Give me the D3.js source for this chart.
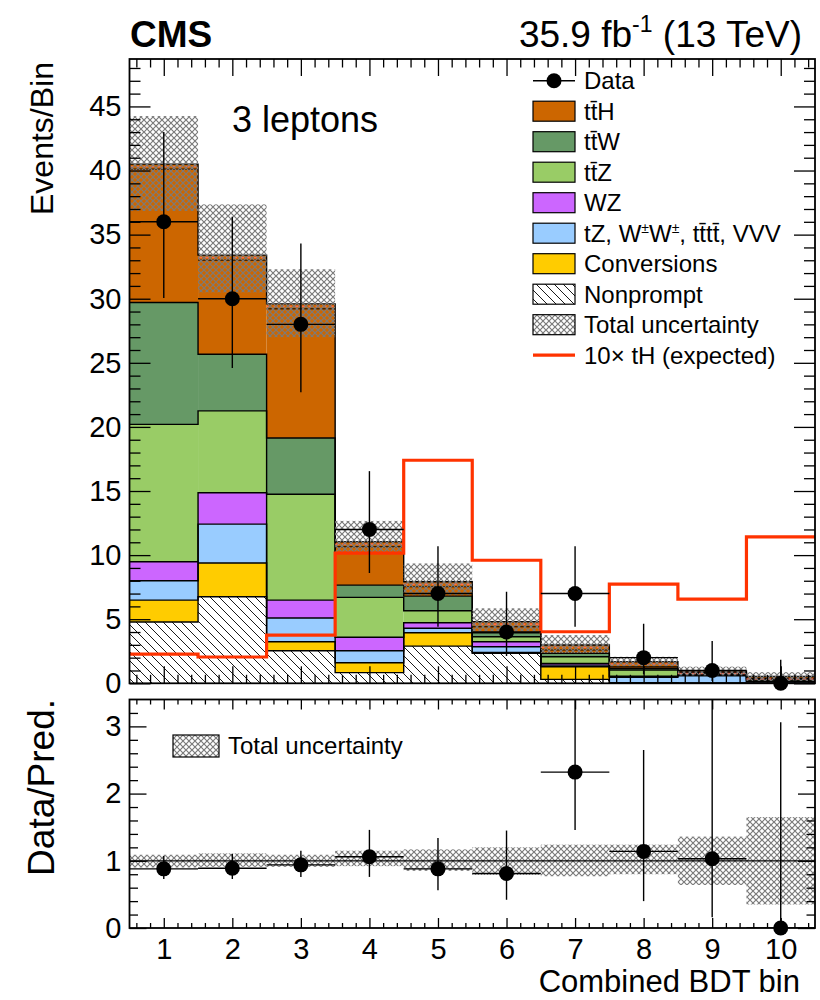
<!DOCTYPE html>
<html>
<head>
<meta charset="utf-8">
<script src="https://cdn.jsdelivr.net/npm/d3@7"></script>
<style>
  body { margin: 0; background: #fff; }
  text { font-family: "Liberation Sans", Arial, Helvetica, sans-serif; fill: #000; }
</style>
</head>
<body>
<svg id="chart"></svg>
<script>
const width = 820;
const height = 1000;

// ---- data ----
const bins = [1, 2, 3, 4, 5, 6, 7, 8, 9, 10];
const nonprompt   = [4.78, 6.75, 2.54, 0.83, 2.90, 2.34, 0.31, 0.02, 0.00, 0.00];
const conversions = [1.71, 2.63, 0.70, 0.77, 1.04, 0.06, 0.98, 0.03, 0.02, 0.00];
const rare        = [1.51, 3.04, 1.85, 0.94, 0.35, 0.45, 0.13, 0.42, 0.61, 0.15];
const wz          = [1.48, 2.44, 1.40, 1.05, 0.43, 0.39, 0.13, 0.08, 0.05, 0.03];
const ttz         = [10.72, 6.39, 8.26, 3.11, 0.94, 0.39, 0.52, 0.49, 0.07, 0.10];
const ttw         = [9.50, 4.42, 4.39, 0.96, 1.14, 0.31, 0.27, 0.13, 0.07, 0.10];
const tth         = [10.80, 7.73, 10.46, 3.38, 1.12, 0.86, 0.65, 0.51, 0.14, 0.15];

const uncHi = [44.25, 37.36, 32.3, 12.67, 9.35, 5.85, 3.76, 2.07, 1.30, 0.87];
const uncLo = [36.85, 30.5, 27.0, 10.26, 6.88, 4.02, 2.36, 1.34, 0.62, 0.19];

const dataObs = [36, 30, 28, 12, 7, 4, 7, 2, 1, 0];
const dataHi  = [43.0, 36.4, 34.3, 16.55, 10.7, 7.14, 10.7, 4.64, 3.3, 1.84];
const dataLo  = [30.05, 24.6, 22.7, 8.6, 4.41, 2.13, 4.41, 0.71, 0.17, 0];

const tH10 = [2.28, 2.05, 3.76, 10.16, 17.4, 9.6, 4.02, 7.74, 6.57, 11.43];

const ratio   = [0.88, 0.89, 0.94, 1.06, 0.88, 0.81, 2.32, 1.14, 1.03, 0];
const ratioHi = [1.07, 1.10, 1.15, 1.46, 1.34, 1.45, 3.58, 2.65, 3.44, 3.06];
const ratioLo = [0.73, 0.73, 0.76, 0.76, 0.56, 0.42, 1.46, 0.40, 0.16, 0];
const bandHi  = [1.09, 1.11, 1.09, 1.15, 1.17, 1.20, 1.24, 1.24, 1.36, 1.65];
const bandLo  = [0.90, 0.91, 0.91, 0.92, 0.85, 0.79, 0.77, 0.80, 0.64, 0.35];

const procKeys   = ['nonprompt', 'conversions', 'rare', 'wz', 'ttz', 'ttw', 'tth'];
const procColors = ['#ffffff', '#ffcc00', '#99ccff', '#cc66ff', '#99cc66', '#669966', '#cc6600'];

const svg = d3.select('#chart')
    .attr('width', width)
    .attr('height', height);

// ---- scales ----
const x  = d3.scaleLinear().domain([0.5, 10.5]).range([129.5, 815]);
const y  = d3.scaleLinear().domain([0, 48.7]).range([683.3, 59]);
const yr = d3.scaleLinear().domain([0, 3.4]).range([928, 699.5]);

// ---- patterns ----
const defs = svg.append('defs');
const np = defs.append('pattern').attr('id', 'hatchNP')
    .attr('patternUnits', 'userSpaceOnUse').attr('width', 9).attr('height', 9);
np.append('rect').attr('width', 9).attr('height', 9).attr('fill', '#fff');
np.append('path').attr('d', 'M-1,-1 L10,10 M-1,8 L1,10 M8,-1 L10,1')
    .attr('stroke', '#000').attr('stroke-width', 0.9);

const cross = defs.append('pattern').attr('id', 'cross')
    .attr('patternUnits', 'userSpaceOnUse').attr('width', 6).attr('height', 6);
cross.append('path').attr('d', 'M0,0 L6,6 M0,6 L6,0')
    .attr('stroke', '#7a7a7a').attr('stroke-width', 1.2).attr('fill', 'none');

defs.append('clipPath').attr('id', 'clipMain').append('rect')
    .attr('x', x(0.5)).attr('y', y(48.7)).attr('width', x(10.5) - x(0.5)).attr('height', y(0) - y(48.7));
defs.append('clipPath').attr('id', 'clipRatio').append('rect')
    .attr('x', x(0.5)).attr('y', yr(3.4)).attr('width', x(10.5) - x(0.5)).attr('height', yr(0) - yr(3.4));

// ---- stacked histogram ----
const rows = bins.map((b, i) => ({
    bin: b, nonprompt: nonprompt[i], conversions: conversions[i], rare: rare[i],
    wz: wz[i], ttz: ttz[i], ttw: ttw[i], tth: tth[i]
}));
const stacked = d3.stack().keys(procKeys)(rows);

const main = svg.append('g').attr('clip-path', 'url(#clipMain)');

stacked.forEach((layer, k) => {
    main.append('g').selectAll('rect').data(layer).enter().append('rect')
        .attr('x', d => x(d.data.bin - 0.5))
        .attr('width', d => x(d.data.bin + 0.5) - x(d.data.bin - 0.5))
        .attr('y', d => y(d[1]))
        .attr('height', d => y(d[0]) - y(d[1]))
        .attr('fill', k === 0 ? 'url(#hatchNP)' : procColors[k]);
});

function stepPath(vals, scale) {
    let p = `M${x(0.5)},${scale(vals[0])}`;
    vals.forEach((v, i) => {
        p += ` V${scale(v)} H${x(bins[i] + 0.5)}`;
    });
    return p;
}

stacked.forEach(layer => {
    main.append('path')
        .attr('d', stepPath(layer.map(d => d[1]), y))
        .attr('fill', 'none').attr('stroke', '#000').attr('stroke-width', 1.4);
});

// top-of-stack double outline
const totals = stacked[stacked.length - 1].map(d => d[1]);
main.append('g').selectAll('line').data(bins).enter().append('line')
    .attr('x1', d => x(d - 0.5)).attr('x2', d => x(d + 0.5))
    .attr('y1', (d, i) => y(totals[i]) + 2.5).attr('y2', (d, i) => y(totals[i]) + 2.5)
    .attr('stroke', '#ff6a4a').attr('stroke-width', 1.3).attr('stroke-dasharray', '4,3');
main.append('g').selectAll('line').data(bins).enter().append('line')
    .attr('x1', d => x(d - 0.5)).attr('x2', d => x(d + 0.5))
    .attr('y1', (d, i) => y(totals[i]) + 5).attr('y2', (d, i) => y(totals[i]) + 5)
    .attr('stroke', '#000').attr('stroke-width', 1);

// total uncertainty band
main.append('g').selectAll('rect').data(bins).enter().append('rect')
    .attr('x', d => x(d - 0.5))
    .attr('width', d => x(d + 0.5) - x(d - 0.5))
    .attr('y', (d, i) => y(uncHi[i]))
    .attr('height', (d, i) => y(uncLo[i]) - y(uncHi[i]))
    .attr('fill', 'url(#cross)');

// 10x tH
main.append('path')
    .attr('d', stepPath(tH10, y))
    .attr('fill', 'none').attr('stroke', '#ff3300').attr('stroke-width', 3.2);

// data
function drawData(g, scale, vals, hi, lo) {
    const pts = g.append('g');
    pts.selectAll('.eh').data(bins).enter().append('line')
        .attr('x1', d => x(d - 0.5)).attr('x2', d => x(d + 0.5))
        .attr('y1', (d, i) => scale(vals[i])).attr('y2', (d, i) => scale(vals[i]))
        .attr('stroke', '#000').attr('stroke-width', 1.4);
    pts.selectAll('.ev').data(bins).enter().append('line')
        .attr('x1', d => x(d)).attr('x2', d => x(d))
        .attr('y1', (d, i) => scale(hi[i])).attr('y2', (d, i) => scale(lo[i]))
        .attr('stroke', '#000').attr('stroke-width', 1.4);
    return pts;
}
drawData(main, y, dataObs, dataHi, dataLo);
svg.append('g').selectAll('circle').data(bins).enter().append('circle')
    .attr('cx', d => x(d)).attr('cy', (d, i) => y(dataObs[i])).attr('r', 7.5).attr('fill', '#000');

// ---- ratio panel ----
const rat = svg.append('g').attr('clip-path', 'url(#clipRatio)');
rat.append('g').selectAll('rect').data(bins).enter().append('rect')
    .attr('x', d => x(d - 0.5))
    .attr('width', d => x(d + 0.5) - x(d - 0.5))
    .attr('y', (d, i) => yr(bandHi[i]))
    .attr('height', (d, i) => yr(bandLo[i]) - yr(bandHi[i]))
    .attr('fill', 'url(#cross)');
rat.append('line')
    .attr('x1', x(0.5)).attr('x2', x(10.5)).attr('y1', yr(1)).attr('y2', yr(1))
    .attr('stroke', '#000').attr('stroke-width', 1.2);
drawData(rat, yr, ratio, ratioHi, ratioLo);
svg.append('g').selectAll('circle').data(bins).enter().append('circle')
    .attr('cx', d => x(d)).attr('cy', (d, i) => yr(ratio[i])).attr('r', 7.5).attr('fill', '#000');

// ---- axes ----
function tickAxis(axisFn, scale, values, size, tx, ty) {
    const g = svg.append('g').attr('transform', `translate(${tx},${ty})`);
    g.call(axisFn(scale).tickValues(values).tickSize(size).tickFormat(''));
    g.select('.domain').remove();
    g.selectAll('line').attr('stroke', '#000').attr('stroke-width', 1.3);
    return g;
}

const yMajor = d3.range(0, 46, 5);
const yMinor = d3.range(0, 49, 1).filter(v => v % 5 !== 0);
const xMajor = bins;
const xMinor = d3.range(3, 53).map(v => v / 5).filter(v => v % 1 !== 0);
const rMajor = [0, 1, 2, 3];
const rMinor = d3.range(1, 17).map(v => v / 5).filter(v => v % 1 !== 0);

// main panel ticks
tickAxis(d3.axisLeft, y, yMajor, -21, x(0.5), 0);
tickAxis(d3.axisLeft, y, yMinor, -11, x(0.5), 0);
tickAxis(d3.axisRight, y, yMajor, -21, x(10.5), 0);
tickAxis(d3.axisRight, y, yMinor, -11, x(10.5), 0);
tickAxis(d3.axisBottom, x, xMajor, -17, 0, y(0));
tickAxis(d3.axisBottom, x, xMinor, -8.5, 0, y(0));
tickAxis(d3.axisTop, x, xMajor, -17, 0, y(48.7));
tickAxis(d3.axisTop, x, xMinor, -8.5, 0, y(48.7));

// ratio panel ticks
tickAxis(d3.axisLeft, yr, rMajor, -17, x(0.5), 0);
tickAxis(d3.axisLeft, yr, rMinor, -8.5, x(0.5), 0);
tickAxis(d3.axisRight, yr, rMajor, -17, x(10.5), 0);
tickAxis(d3.axisRight, yr, rMinor, -8.5, x(10.5), 0);
tickAxis(d3.axisBottom, x, xMajor, -10, 0, yr(0));
tickAxis(d3.axisBottom, x, xMinor, -5, 0, yr(0));
tickAxis(d3.axisTop, x, xMajor, -10, 0, yr(3.4));
tickAxis(d3.axisTop, x, xMinor, -5, 0, yr(3.4));

// frames
svg.append('rect').attr('x', x(0.5)).attr('y', y(48.7))
    .attr('width', x(10.5) - x(0.5)).attr('height', y(0) - y(48.7))
    .attr('fill', 'none').attr('stroke', '#000').attr('stroke-width', 1.8);
svg.append('rect').attr('x', x(0.5)).attr('y', yr(3.4))
    .attr('width', x(10.5) - x(0.5)).attr('height', yr(0) - yr(3.4))
    .attr('fill', 'none').attr('stroke', '#000').attr('stroke-width', 1.8);

// tick labels
const yLab = svg.append('g').attr('transform', `translate(${x(0.5)},0)`)
    .call(d3.axisLeft(y).tickValues(yMajor).tickSize(0).tickPadding(8));
const rLab = svg.append('g').attr('transform', `translate(${x(0.5)},0)`)
    .call(d3.axisLeft(yr).tickValues(rMajor).tickFormat(d3.format('d')).tickSize(0).tickPadding(8));
const xLab = svg.append('g').attr('transform', `translate(0,${yr(0)})`)
    .call(d3.axisBottom(x).tickValues(xMajor).tickSize(0).tickPadding(10));
[yLab, rLab, xLab].forEach(g => {
    g.select('.domain').remove();
    g.selectAll('text').attr('font-size', 29).attr('font-family', null);
});

// axis titles
svg.append('text').attr('transform', 'translate(53,62) rotate(-90)')
    .attr('text-anchor', 'end').attr('font-size', 32).text('Events/Bin');
svg.append('text').attr('transform', 'translate(54,699) rotate(-90)')
    .attr('text-anchor', 'end').attr('font-size', 37).text('Data/Pred.');
svg.append('text').attr('x', 800).attr('y', 992)
    .attr('text-anchor', 'end').attr('font-size', 31).text('Combined BDT bin');

// header
svg.append('text').attr('x', 130).attr('y', 47)
    .attr('font-size', 37).attr('font-weight', 'bold').text('CMS');
const lumi = svg.append('text').attr('x', 802).attr('y', 47)
    .attr('text-anchor', 'end').attr('font-size', 37);
lumi.append('tspan').text('35.9 fb');
lumi.append('tspan').attr('font-size', 23).attr('dy', -15).text('-1');
lumi.append('tspan').attr('dy', 15).text(' (13 TeV)');

svg.append('text').attr('x', 232).attr('y', 132)
    .attr('font-size', 36).text('3 leptons');

// ---- legend ----
const legX = 533, legW = 42, legH = 20, legTextX = 584, legY0 = 80.7, legStep = 30.5;
const legendItems = [
    { type: 'data', label: 'Data' },
    { type: 'box', fill: '#cc6600', label: 'tt\u0304H' },
    { type: 'box', fill: '#669966', label: 'tt\u0304W' },
    { type: 'box', fill: '#99cc66', label: 'tt\u0304Z' },
    { type: 'box', fill: '#cc66ff', label: 'WZ' },
    { type: 'box', fill: '#99ccff', label: 'rare' },
    { type: 'box', fill: '#ffcc00', label: 'Conversions' },
    { type: 'box', fill: 'url(#hatchNP)', label: 'Nonprompt' },
    { type: 'box', fill: 'url(#cross)', label: 'Total uncertainty' },
    { type: 'line', label: '10\u00d7 tH (expected)' }
];

const leg = svg.append('g');
legendItems.forEach((it, i) => {
    const cy = legY0 + i * legStep;
    if (it.type === 'box') {
        leg.append('rect').attr('x', legX).attr('y', cy - legH / 2)
            .attr('width', legW).attr('height', legH)
            .attr('fill', it.fill).attr('stroke', '#000').attr('stroke-width', 1.2);
    } else if (it.type === 'data') {
        leg.append('line').attr('x1', legX).attr('x2', legX + legW).attr('y1', cy).attr('y2', cy)
            .attr('stroke', '#000').attr('stroke-width', 1.4);
        leg.append('circle').attr('cx', legX + legW / 2).attr('cy', cy).attr('r', 7.5);
    } else {
        leg.append('line').attr('x1', legX).attr('x2', legX + legW).attr('y1', cy).attr('y2', cy)
            .attr('stroke', '#ff3300').attr('stroke-width', 3.2);
    }
    const t = leg.append('text').attr('x', legTextX).attr('y', cy + 8.5).attr('font-size', 24);
    if (it.label === 'rare') {
        t.append('tspan').text('tZ, W');
        t.append('tspan').attr('font-size', 14).attr('dy', -9).text('\u00b1');
        t.append('tspan').attr('dy', 9).text('W');
        t.append('tspan').attr('font-size', 14).attr('dy', -9).text('\u00b1');
        t.append('tspan').attr('dy', 9).text(', tt\u0304tt\u0304, VVV');
    } else {
        t.text(it.label);
    }
});

// ratio legend
svg.append('rect').attr('x', 173).attr('y', 735).attr('width', 46).attr('height', 22)
    .attr('fill', 'url(#cross)').attr('stroke', '#000').attr('stroke-width', 1.2);
svg.append('text').attr('x', 228).attr('y', 754).attr('font-size', 24).text('Total uncertainty');
</script>
</body>
</html>
